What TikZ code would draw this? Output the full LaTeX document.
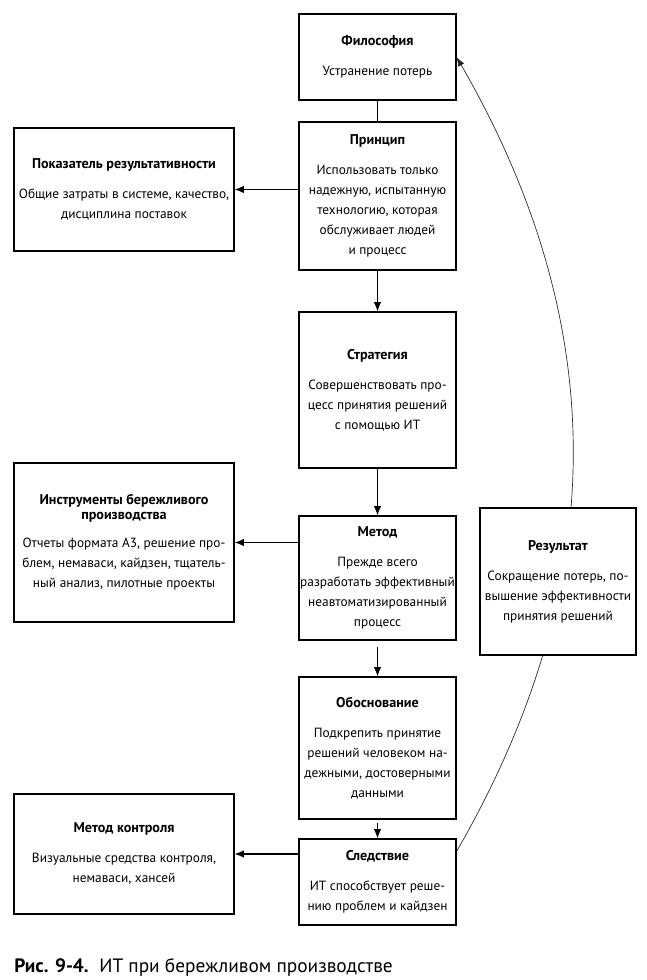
\documentclass[tikz,border=0pt]{standalone}
\usepackage{fontspec}
\setmainfont{PT Sans}
\usetikzlibrary{arrows.meta,calc,backgrounds}
\newcommand{\ttl}[1]{{\fontsize{10.6}{15}\selectfont\textbf{#1}}}
\tikzset{
  box/.style={draw, line width=0.8pt, fill=white, inner sep=0pt, align=center,
    font=\fontsize{10}{15}\selectfont},
  conn/.style={line width=0.8pt, -{Latex[length=7pt,width=5.5pt]}},
  plain/.style={line width=0.8pt},
  loopline/.style={line width=0.5pt, black!85, -{Latex[length=7pt,width=5pt]}}
}
\begin{document}
\begin{tikzpicture}[x=0.75pt, y=-0.75pt]
\useasboundingbox (0,0) rectangle (646,980);
\node[box, minimum width=157*0.75pt, minimum height=86*0.75pt] (fil) at (377.5,57)
  {\ttl{Философия}\\[7.5pt]Устранение потерь};
\node[box, minimum width=157*0.75pt, minimum height=148*0.75pt] (pri) at (377.5,196)
  {\ttl{Принцип}\\[7.5pt]Использовать только\\надежную, испытанную\\технологию, которая\\обслуживает людей\\и процесс};
\node[box, minimum width=220*0.75pt, minimum height=123*0.75pt] (pok) at (124,189.5)
  {\ttl{Показатель результативности}\\[7.5pt]Общие затраты в системе, качество,\\дисциплина поставок};
\node[box, minimum width=157*0.75pt, minimum height=156*0.75pt] (str) at (377.5,390)
  {\ttl{Стратегия}\\[7.5pt]Совершенствовать про-\\цесс принятия решений\\с помощью ИТ};
\node[box, minimum width=157*0.75pt, minimum height=124*0.75pt] (met) at (377.5,578)
  {\ttl{Метод}\\[7.5pt]Прежде всего\\разработать эффективный\\неавтоматизированный\\процесс};
\node[box, minimum width=220*0.75pt, minimum height=159*0.75pt] (ins) at (124,542.5)
  {\ttl{Инструменты бережливого}\\[-4pt]\ttl{производства}\\[6.5pt]Отчеты формата А3, решение про-\\блем, немаваси, кайдзен, тщатель-\\ный анализ, пилотные проекты};
\node[box, minimum width=156*0.75pt, minimum height=147*0.75pt] (res) at (558,581.5)
  {\ttl{Результат}\\[7.5pt]Сокращение потерь, по-\\вышение эффективности\\принятия решений};
\node[box, minimum width=157*0.75pt, minimum height=142*0.75pt] (obo) at (377.5,748)
  {\ttl{Обоснование}\\[7.5pt]Подкрепить принятие\\решений человеком на-\\дежными, достоверными\\данными};
\node[box, minimum width=157*0.75pt, minimum height=86*0.75pt] (sle) at (377.5,882)
  {\ttl{Следствие}\\[7.5pt]ИТ способствует реше-\\нию проблем и кайдзен};
\node[box, minimum width=220*0.75pt, minimum height=120*0.75pt] (mk) at (124,854)
  {\ttl{Метод контроля}\\[7.5pt]Визуальные средства контроля,\\немаваси, хансей};
\coordinate (loopstart) at ($(sle.north east)+(0,13)$);
\begin{pgfonlayer}{background}
\draw[loopline] (loopstart) to[bend right=30] (fil.east);
\end{pgfonlayer}
\draw[plain] (fil.south) -- (pri.north);
\draw[conn] (pri.west |- pok.east) -- (pok.east);
\draw[conn] (pri.south) -- (str.north);
\draw[conn] (str.south) -- (met.north);
\draw[conn] (met.west |- ins.east) -- (ins.east);
\draw[conn] ($(met.south)+(0,6)$) -- (obo.north);
\draw[conn] ($(obo.south)+(0,3)$) -- (sle.north);
\draw[conn] (sle.west |- mk.east) -- (mk.east);
\node[anchor=base west, inner sep=0pt, font=\fontsize{14.5}{17}\selectfont] (cap) at (14,972)
  {\textbf{Рис. 9-4.}\hspace{8pt}ИТ при бережливом производстве};
\end{tikzpicture}
\end{document}
